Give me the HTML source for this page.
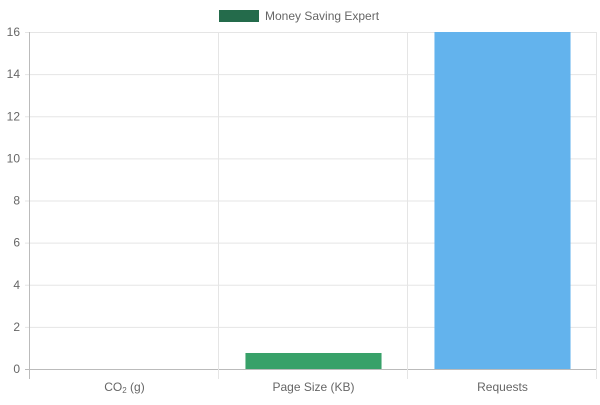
<!DOCTYPE html>
<html><head><meta charset="utf-8"><style>
body{margin:0;background:#fff;width:600px;height:400px;overflow:hidden}
svg{font-family:"Liberation Sans",sans-serif}
</style></head><body>
<svg id="c" width="600" height="400">
<g>
<rect x="219" y="10" width="40" height="12" fill="#246b4b"/>
<text x="265" y="20" font-size="12" fill="#666">Money Saving Expert</text>
</g>
</svg>
<script>
const categories=["CO2 (g)","Page Size (KB)","Requests"];
const values=[0,0.76,16];
const colors=["#246b4b","#38a169","#63b3ed"];
const ticks=[0,2,4,6,8,10,12,14,16];
const svg=document.getElementById('c');
const NS="http://www.w3.org/2000/svg";
const L=30,R=597,T=32,B=369,maxV=16;
const y=v=>B-(v/maxV)*(B-T);
const cw=(R-L)/categories.length;
const x=i=>L+i*cw;
function mk(t,a){const e=document.createElementNS(NS,t);for(const k in a)e.setAttribute(k,a[k]);svg.appendChild(e);return e;}
ticks.forEach(t=>{
 const g=mk('line',{x1:L-5,x2:R,y1:y(t)+.5,y2:y(t)+.5,stroke:t===0?'#bbb':'#e5e5e5'});
 
 
 const tx=mk('text',{x:L-10,y:y(t)+4,'font-size':12,fill:'#666','text-anchor':'end'});
 tx.textContent=t;
 
 
});
for(let i=0;i<=categories.length;i++){
 const g=mk('line',{x1:x(i)-.5,x2:x(i)-.5,y1:T,y2:B+10,stroke:i===0?'#bbb':'#e5e5e5'});
 
 
}
categories.forEach((c,i)=>{
 const bw=cw*0.72,bx=x(i)+(cw-bw)/2;
 const r=mk('rect',{x:bx,y:y(values[i]),width:bw,height:B-y(values[i]),fill:colors[i]});
 
 
 const tx=mk('text',{x:x(i)+cw/2,y:391,'font-size':12,fill:'#666','text-anchor':'middle'});
 if(c.startsWith('CO2')){tx.innerHTML='CO<tspan font-size="8" dy="2">2</tspan><tspan dy="-2"> (g)</tspan>';}
 else tx.textContent=c;
 
 
});
</script>
</body></html>
